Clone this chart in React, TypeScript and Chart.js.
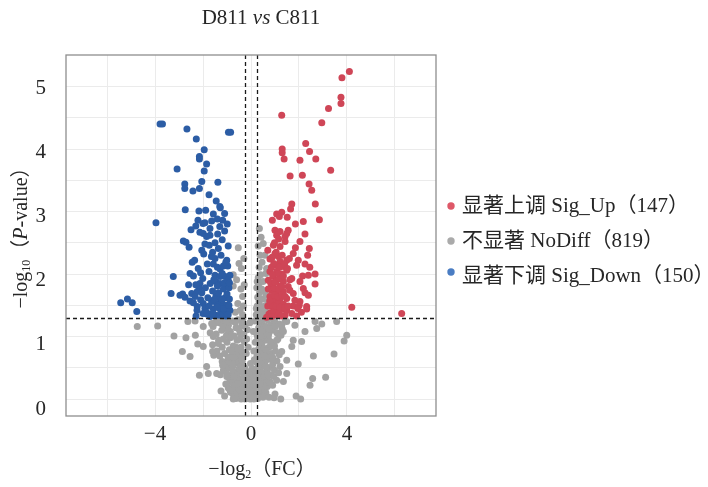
import React, { useEffect, useRef } from "react";
import { Chart, registerables } from "chart.js";

Chart.register(...registerables);

// ---------- data ----------
const TITLE_A = "D811 ";
const TITLE_VS = "vs";
const TITLE_B = " C811";

const LEGEND_LABELS = ["显著上调 Sig_Up（147）", "不显著 NoDiff（819）", "显著下调 Sig_Down（150）"];

const X_GRID = [-6, -4, -2, 0, 2, 4, 6];
const X_LABELS = [-4, 0, 4];
const Y_GRID = [0, 0.5, 1, 1.5, 2, 2.5, 3, 3.5, 4, 4.5, 5];
const Y_LABELS = [0, 1, 2, 3, 4, 5];

const FC_CUTS = [-0.263, 0.263];
const P_CUT = 1.301;

// [log2FC, -log10 P]
const SIG_UP: [number, number][] = [
  [4.10, 5.24], [3.79, 5.14], [3.75, 4.83], [3.75, 4.73], [3.23, 4.65], [1.28, 4.54], [2.95, 4.42],
  [2.28, 4.09], [2.44, 3.96], [1.30, 4.00], [1.30, 3.94], [1.38, 3.84], [2.04, 3.82], [2.70, 3.84],
  [3.32, 3.66], [1.63, 3.57], [2.14, 3.58], [2.42, 3.44], [2.53, 3.34], [2.68, 3.12], [1.70, 3.12],
  [1.65, 3.04], [2.85, 2.87], [2.18, 2.84], [0.89, 2.86], [1.07, 2.96], [1.28, 2.99], [1.51, 2.91],
  [1.85, 2.80], [1.18, 2.92],
  [1.00, 2.70], [1.21, 2.68], [1.55, 2.70], [1.07, 2.62], [1.42, 2.60], [1.49, 2.65], [2.25, 2.64],
  [2.04, 2.52], [1.42, 2.52], [0.93, 2.46], [1.21, 2.44], [2.43, 2.41], [2.36, 2.30], [1.76, 2.33],
  [1.00, 2.33], [1.14, 2.28], [0.79, 2.24], [1.21, 2.20], [1.49, 2.22], [1.97, 2.22], [2.25, 2.16],
  [1.04, 2.14], [1.35, 2.12], [1.49, 2.06], [0.79, 2.04], [1.07, 2.04], [1.28, 2.00], [1.70, 1.93],
  [2.15, 1.97], [2.39, 1.98], [2.67, 2.00], [0.93, 1.96], [0.72, 1.90], [1.07, 1.90], [1.35, 1.88],
  [2.04, 1.88], [2.67, 1.84], [0.86, 1.82], [1.21, 1.81], [1.55, 1.80], [2.18, 1.77], [0.86, 1.74],
  [1.07, 1.72], [1.35, 1.72], [1.76, 1.69], [2.25, 1.70], [2.39, 1.66], [0.79, 1.64], [1.00, 1.61],
  [1.21, 1.61], [1.49, 1.61], [1.83, 1.58], [2.04, 1.56], [0.93, 1.56], [1.14, 1.53], [1.35, 1.52],
  [1.76, 1.49], [2.01, 1.50], [2.32, 1.48], [0.86, 1.48], [1.00, 1.45], [1.28, 1.44], [1.49, 1.42],
  [2.32, 1.44], [0.93, 1.34], [1.42, 1.34], [1.90, 1.33], [0.65, 1.31], [4.20, 1.47], [6.28, 1.37],
  [0.75, 1.36], [0.82, 1.38], [0.95, 1.40], [1.10, 1.35], [1.18, 1.38], [1.25, 1.33], [0.70, 1.49],
  [0.90, 1.50], [1.05, 1.48], [1.20, 1.47], [1.40, 1.46], [0.78, 1.57], [0.97, 1.66], [1.12, 1.64],
  [1.30, 1.66], [1.42, 1.64], [0.72, 1.76], [0.95, 1.78], [1.15, 1.76], [1.28, 1.80], [0.82, 1.86],
  [1.00, 1.87], [1.18, 1.93], [0.90, 1.99], [1.15, 2.01], [1.35, 1.97], [0.85, 2.11], [0.95, 2.17],
  [1.18, 2.11], [1.40, 2.16], [0.88, 2.27], [1.05, 2.35], [1.30, 2.30], [1.60, 2.25], [0.98, 2.50],
  [1.15, 2.56], [0.70, 2.38], [1.62, 1.91], [1.55, 1.49], [1.62, 1.74], [1.90, 2.14], [1.85, 2.42],
  [1.95, 1.45], [2.10, 1.39], [1.70, 1.37], [0.85, 1.32], [1.52, 2.09], [2.45, 2.11],
];

const SIG_DOWN: [number, number][] = [
  [-3.79, 4.40], [-3.69, 4.40], [-2.67, 4.32], [-0.94, 4.27], [-0.85, 4.27], [-2.28, 4.16], [-1.95, 3.99],
  [-2.15, 3.88], [-2.15, 3.84], [-1.85, 3.76], [-1.95, 3.65], [-3.08, 3.68], [-1.38, 3.47], [-2.76, 3.44],
  [-2.76, 3.37], [-2.42, 3.33], [-2.15, 3.37], [-2.74, 3.03], [-2.17, 3.01], [-1.89, 3.02], [-1.30, 3.08],
  [-1.28, 3.06], [-1.57, 2.96], [-2.21, 2.86], [-1.92, 2.82], [-1.64, 2.85], [-1.40, 2.88], [-1.18, 2.86],
  [-0.99, 2.80], [-2.30, 2.77], [-1.71, 2.73], [-2.13, 2.67], [-1.99, 2.65], [-1.71, 2.62], [-1.39, 2.64],
  [-3.96, 2.82], [-2.82, 2.53], [-2.71, 2.51], [-2.58, 2.43], [-1.92, 2.48], [-1.74, 2.46], [-1.36, 2.41],
  [-1.97, 2.32], [-2.35, 2.22], [-1.50, 2.25], [-1.01, 2.22], [-1.82, 2.16], [-1.57, 2.16], [-1.15, 2.13],
  [-0.97, 2.13], [-1.29, 2.08], [-2.54, 2.01], [-2.40, 1.97], [-2.10, 2.02], [-3.24, 1.96], [-2.01, 1.93],
  [-1.50, 1.98], [-1.29, 1.96], [-1.08, 1.96], [-0.88, 1.98], [-2.13, 1.85], [-1.46, 1.88], [-1.29, 1.85],
  [-1.01, 1.82], [-2.15, 1.77], [-2.24, 1.72], [-2.05, 1.70], [-3.33, 1.69], [-2.96, 1.66], [-2.85, 1.68],
  [-2.47, 1.69], [-2.33, 1.64], [-1.46, 1.65], [-1.29, 1.61], [-1.08, 1.62], [-0.90, 1.60], [-2.54, 1.57],
  [-2.40, 1.54], [-1.99, 1.53], [-1.64, 1.56], [-1.43, 1.53], [-1.22, 1.54], [-1.01, 1.50], [-2.24, 1.48],
  [-1.92, 1.45], [-1.57, 1.44], [-1.29, 1.44], [-1.08, 1.40], [-0.88, 1.42], [-2.29, 1.33], [-1.85, 1.36],
  [-1.71, 1.32], [-1.46, 1.34], [-1.18, 1.36], [-5.43, 1.54], [-5.15, 1.60], [-4.95, 1.54], [-4.76, 1.40],
  [-1.05, 1.33], [-0.95, 1.35], [-1.30, 1.34], [-1.60, 1.37], [-2.00, 1.37], [-1.15, 1.45], [-1.40, 1.47],
  [-1.75, 1.49], [-0.92, 1.50], [-1.20, 1.59], [-1.55, 1.59], [-1.80, 1.62], [-2.10, 1.59], [-1.00, 1.68],
  [-1.35, 1.70], [-1.60, 1.73], [-1.90, 1.78], [-1.15, 1.76], [-0.92, 1.78], [-1.40, 1.81], [-1.70, 1.85],
  [-1.10, 1.86], [-2.30, 1.83], [-1.55, 1.91], [-0.95, 1.90], [-1.20, 2.01], [-1.75, 2.04], [-2.20, 2.09],
  [-1.40, 2.11], [-1.05, 2.19], [-1.65, 2.28], [-1.25, 2.30], [-2.05, 2.38], [-1.50, 2.50], [-1.20, 2.55],
  [-1.85, 2.60], [-1.10, 2.69], [-2.45, 2.19], [-2.60, 1.83], [-2.75, 1.63], [-1.30, 2.76], [-1.60, 2.35],
  [-0.95, 2.45], [-2.00, 2.81], [-1.45, 3.17], [-1.75, 3.27], [-2.05, 3.48], [-1.10, 2.97], [-2.50, 2.71],
  [-0.90, 1.86], [-1.85, 1.39], [-2.25, 1.42],
];

const NO_DIFF: [number, number][] = [
  // bottom band
  [-0.62, 0.01], [-0.50, 0.03], [-0.41, 0.00], [-0.33, 0.02], [-0.25, 0.00], [-0.18, 0.04], [-0.10, 0.01],
  [-0.03, 0.00], [0.05, 0.02], [0.12, 0.00], [0.20, 0.03], [0.28, 0.01], [0.36, 0.04], [-0.55, 0.06],
  [-0.45, 0.07], [-0.30, 0.06], [-0.15, 0.08], [0.00, 0.06], [0.15, 0.07], [0.30, 0.08], [0.42, 0.05],
  [-0.75, 0.08], [-0.66, 0.11], [-0.58, 0.07], [-0.48, 0.10], [-0.38, 0.08], [-0.28, 0.11], [-0.20, 0.09],
  [-0.12, 0.12], [-0.05, 0.08], [0.03, 0.10], [0.10, 0.13], [0.18, 0.08], [0.26, 0.11], [0.34, 0.09],
  [0.45, 0.12], [0.55, 0.07], [-0.85, 0.11], [0.62, 0.10],
  [-0.80, 0.16], [-0.70, 0.19], [-0.60, 0.14], [-0.52, 0.18], [-0.44, 0.21], [-0.35, 0.15], [-0.26, 0.19],
  [-0.17, 0.17], [-0.08, 0.21], [0.02, 0.16], [0.09, 0.19], [0.17, 0.14], [0.25, 0.18], [0.33, 0.21],
  [0.41, 0.16], [0.50, 0.19], [0.58, 0.15], [0.68, 0.20], [-0.95, 0.18],
  [-0.88, 0.28], [-0.76, 0.26], [-0.65, 0.31], [-0.55, 0.27], [-0.46, 0.32], [-0.37, 0.26], [-0.28, 0.30],
  [-0.18, 0.28], [-0.06, 0.33], [0.06, 0.27], [0.16, 0.31], [0.24, 0.26], [0.32, 0.30], [0.40, 0.28],
  [0.49, 0.32], [0.58, 0.26], [0.70, 0.30], [0.80, 0.27],
  [-0.40, 0.11], [-0.22, 0.14], [-0.35, 0.04], [0.08, 0.05], [0.22, 0.16], [-0.58, 0.24], [-0.12, 0.24],
  [0.38, 0.24], [-0.68, 0.03], [0.50, 0.03], [-0.02, 0.13], [0.14, 0.23], [-0.48, 0.15], [0.30, 0.13],
  [-0.90, 0.34], [0.65, 0.34], [-1.05, 0.24], [0.90, 0.22], [-1.10, 0.05], [0.75, 0.03], [-1.25, 0.13],
  [1.00, 0.08],
  // lower middle
  [-1.28, 0.39], [-1.15, 0.46], [-1.02, 0.42], [-0.92, 0.50], [-0.82, 0.37], [-0.74, 0.44], [-0.66, 0.57],
  [-0.58, 0.40], [-0.50, 0.48], [-0.42, 0.55], [-0.34, 0.42], [-0.26, 0.50], [-0.20, 0.38], [-1.20, 0.60],
  [-1.08, 0.55], [-0.96, 0.63], [-0.86, 0.59], [-0.76, 0.52], [-0.68, 0.64], [-0.60, 0.60], [-0.52, 0.63],
  [-0.44, 0.46], [-0.36, 0.61], [-0.30, 0.36], [-0.96, 0.36], [-0.70, 0.36], [-0.15, 0.44], [-0.10, 0.36],
  [-0.05, 0.42], [0.05, 0.49], [0.10, 0.39], [-0.02, 0.57], [0.14, 0.63],
  [0.20, 0.40], [0.28, 0.46], [0.35, 0.38], [0.42, 0.52], [0.50, 0.42], [0.58, 0.59], [0.66, 0.44],
  [0.74, 0.50], [0.82, 0.39], [0.90, 0.55], [0.98, 0.46], [1.08, 0.61], [0.24, 0.59], [0.32, 0.63],
  [0.40, 0.44], [0.48, 0.57], [0.56, 0.36], [0.64, 0.63], [0.72, 0.38], [0.86, 0.63], [0.95, 0.36],
  [1.15, 0.42], [0.30, 0.52], [0.62, 0.52],
  // upper middle
  [-1.55, 0.70], [-1.42, 0.77], [-1.30, 0.69], [-1.20, 0.83], [-1.10, 0.73], [-1.00, 0.91], [-0.90, 0.79],
  [-0.82, 0.69], [-0.74, 0.85], [-0.66, 0.75], [-0.58, 0.94], [-0.50, 0.71], [-0.42, 0.83], [-0.34, 0.75],
  [-0.28, 0.92], [-1.35, 0.94], [-1.15, 0.96], [-0.95, 0.67], [-0.86, 0.98], [-0.70, 0.67], [-0.62, 0.83],
  [-0.46, 0.96], [-0.38, 0.67], [-1.60, 0.87], [-0.78, 0.77], [-0.55, 0.80],
  [-0.20, 0.73], [-0.12, 0.83], [0.12, 0.77], [0.18, 0.91], [-0.18, 0.96],
  [0.25, 0.69], [0.32, 0.80], [0.38, 0.71], [0.45, 0.87], [0.52, 0.75], [0.60, 0.94], [0.68, 0.70],
  [0.75, 0.83], [0.84, 0.73], [0.92, 0.90], [1.02, 0.77], [1.12, 0.96], [0.28, 0.96], [0.36, 0.90],
  [0.48, 0.67], [0.56, 0.81], [0.64, 0.77], [0.72, 0.98], [0.80, 0.92], [0.90, 0.67], [1.18, 0.71],
  [0.42, 0.98], [0.58, 0.69], [0.98, 0.85],
  // just under the P cut
  [-1.70, 1.06], [-1.58, 1.16], [-1.45, 1.04], [-1.32, 1.22], [-1.22, 1.10], [-1.12, 1.27], [-1.02, 1.02],
  [-0.94, 1.18], [-0.86, 1.08], [-0.78, 1.25], [-0.70, 1.01], [-0.62, 1.14], [-0.54, 1.27], [-0.46, 1.06],
  [-0.38, 1.20], [-0.30, 1.04], [-0.26, 1.16], [-1.40, 1.27], [-0.98, 1.12], [-0.66, 1.23], [-0.50, 1.12],
  [-0.34, 1.28], [-1.18, 1.18], [-0.82, 1.00], [-1.50, 1.22], [-1.05, 1.25],
  [-0.15, 1.11], [-0.05, 1.22], [0.10, 1.08], [0.15, 1.25],
  [0.26, 1.02], [0.32, 1.14], [0.38, 1.06], [0.44, 1.22], [0.50, 1.02], [0.56, 1.16], [0.62, 1.08],
  [0.68, 1.27], [0.74, 1.04], [0.82, 1.18], [0.90, 1.10], [0.98, 1.25], [1.08, 1.06], [1.18, 1.20],
  [1.30, 1.12], [1.42, 1.25], [0.28, 1.25], [0.36, 1.27], [0.46, 1.10], [0.54, 1.29], [0.64, 1.16],
  [0.78, 1.12], [0.86, 1.29], [1.02, 1.16], [1.25, 1.02], [0.40, 1.00],
  // scattered
  [-4.74, 1.16], [-3.89, 1.17], [-3.21, 1.01], [-2.71, 0.98], [-2.32, 1.02], [-2.63, 1.24], [-2.33, 1.25],
  [-2.86, 0.76], [-2.54, 0.68], [-2.22, 0.88], [-1.99, 0.84], [-1.85, 0.52], [-2.15, 0.38], [-1.78, 0.41],
  [-1.43, 0.41], [-1.18, 0.54], [-1.99, 1.16], [-1.64, 1.21], [-1.57, 1.00], [-1.36, 0.89], [-1.60, 0.76],
  [-1.01, 0.36], [-0.88, 0.14], [-0.74, 0.00],
  [1.83, 1.18], [2.67, 1.24], [2.95, 1.20], [2.74, 1.13], [3.57, 1.24], [2.25, 1.08], [1.76, 0.94],
  [2.11, 0.92], [3.99, 1.02], [3.88, 0.93], [2.60, 0.69], [3.46, 0.72], [1.97, 0.56], [1.49, 0.41],
  [3.11, 0.35], [2.57, 0.33], [2.46, 0.22], [1.88, 0.05], [2.07, 0.00], [0.96, 0.02], [1.24, 0.00],
  [1.35, 0.28], [1.07, 0.30], [1.21, 0.52], [1.49, 0.62], [1.28, 0.76], [1.70, 0.84], [1.07, 0.94],
  [1.35, 1.08], [1.28, 1.18], [1.49, 1.24],
  // above the P cut, small fold change
  [0.22, 1.35], [0.30, 1.39], [0.38, 1.33], [0.45, 1.43], [0.26, 1.49], [0.34, 1.56], [0.42, 1.47],
  [0.52, 1.37], [0.28, 1.63], [0.36, 1.70], [0.48, 1.60], [0.56, 1.49], [0.24, 1.78], [0.32, 1.84],
  [0.44, 1.76], [0.55, 1.73], [0.30, 1.94], [0.40, 1.99], [0.50, 1.88], [0.62, 2.01], [0.34, 2.11],
  [0.46, 2.19], [0.65, 2.09], [0.38, 2.30], [0.51, 2.49], [0.30, 2.45], [0.35, 2.73], [0.42, 2.59],
  [0.60, 1.42], [0.64, 1.66], [0.22, 1.45], [0.26, 1.88], [0.58, 2.30], [0.70, 1.56],
  [-0.35, 1.35], [-0.45, 1.42], [-0.32, 1.49], [-0.55, 1.53], [-0.35, 1.64], [-0.42, 1.76], [-0.74, 1.81],
  [-0.60, 1.91], [-0.74, 1.99], [-0.40, 2.09], [-0.53, 2.42], [-0.30, 2.25], [-0.65, 1.39], [-0.28, 1.83],
  [-0.50, 2.17],
];

// ---------- style ----------
const RED = "#CF4657";
const GRAY = "#A2A2A2";
const BLUE = "#2C5DA5";
const LEGEND_COLORS = ["#DE5868", "#AAAAAA", "#4A7DC3"];
const SERIF = '"Liberation Serif", "Times New Roman", "Noto Sans CJK SC", serif';
const TEXT = "#262626";

type Run = { text: string; font: string; dy?: number };

function drawRuns(ctx: CanvasRenderingContext2D, runs: Run[], cx: number, cy: number) {
  let total = 0;
  const widths = runs.map((r) => {
    ctx.font = r.font;
    const w = ctx.measureText(r.text).width;
    total += w;
    return w;
  });
  let x = cx - total / 2;
  ctx.textAlign = "left";
  ctx.textBaseline = "middle";
  runs.forEach((r, i) => {
    ctx.font = r.font;
    ctx.fillText(r.text, x, cy + (r.dy || 0));
    x += widths[i];
  });
}

const fmt = (v: number) => (v < 0 ? "\u2212" + Math.abs(v) : String(v));

const decoPlugin = {
  id: "deco",
  afterDatasetsDraw(chart: any) {
    const { ctx, chartArea: a, scales } = chart;
    const xs = scales.x;
    const ys = scales.y;
    ctx.save();
    ctx.strokeStyle = "#1a1a1a";
    ctx.lineWidth = 1.3;
    ctx.setLineDash([4, 3]);
    FC_CUTS.forEach((v) => {
      const px = Math.round(xs.getPixelForValue(v)) + 0.5;
      ctx.beginPath();
      ctx.moveTo(px, a.top);
      ctx.lineTo(px, a.bottom);
      ctx.stroke();
    });
    const py = Math.round(ys.getPixelForValue(P_CUT)) + 0.5;
    ctx.beginPath();
    ctx.moveTo(a.left, py);
    ctx.lineTo(a.right, py);
    ctx.stroke();
    ctx.setLineDash([]);
    ctx.strokeStyle = "#8e8e8e";
    ctx.lineWidth = 1.3;
    ctx.strokeRect(a.left, a.top, a.right - a.left, a.bottom - a.top);
    ctx.restore();
  },
  afterDraw(chart: any) {
    const { ctx, chartArea: a, scales } = chart;
    const xs = scales.x;
    const ys = scales.y;
    ctx.save();
    ctx.fillStyle = TEXT;
    // y tick labels
    ctx.font = `21px ${SERIF}`;
    ctx.textAlign = "right";
    ctx.textBaseline = "middle";
    Y_LABELS.forEach((v) => {
      ctx.fillText(fmt(v), a.left - 20, ys.getPixelForValue(v) + 10 - 1.6 * v);
    });
    // x tick labels
    ctx.textAlign = "center";
    X_LABELS.forEach((v) => {
      ctx.fillText(fmt(v), xs.getPixelForValue(v), a.bottom + 18);
    });
    // title
    drawRuns(ctx, [
      { text: TITLE_A, font: `21px ${SERIF}` },
      { text: TITLE_VS, font: `italic 21px ${SERIF}` },
      { text: TITLE_B, font: `21px ${SERIF}` },
    ], 261, 18);
    // x title
    drawRuns(ctx, [
      { text: "\u2212log", font: `20px ${SERIF}` },
      { text: "2", font: `12px ${SERIF}`, dy: 5 },
      { text: "（FC）", font: `20px ${SERIF}` },
    ], 262, 470);
    // y title
    ctx.save();
    ctx.translate(22, 233);
    ctx.rotate(-Math.PI / 2);
    drawRuns(ctx, [
      { text: "\u2212log", font: `20px ${SERIF}` },
      { text: "10", font: `12px ${SERIF}`, dy: 5 },
      { text: "（", font: `20px ${SERIF}` },
      { text: "P", font: `italic 20px ${SERIF}` },
      { text: "-value）", font: `20px ${SERIF}` },
    ], 0, 0);
    ctx.restore();
    // legend
    const rows = [206, 241, 276];
    LEGEND_LABELS.forEach((label, i) => {
      ctx.fillStyle = LEGEND_COLORS[i];
      ctx.beginPath();
      ctx.arc(451, rows[i] + (i === 2 ? -4 : 0), 3.7, 0, Math.PI * 2);
      ctx.fill();
      ctx.fillStyle = TEXT;
      ctx.font = `21px ${SERIF}`;
      ctx.textAlign = "left";
      ctx.textBaseline = "middle";
      ctx.fillText(label, 462, rows[i]);
    });
    ctx.restore();
  },
};

const toPts = (arr: [number, number][]) => arr.map(([x, y]) => ({ x, y }));

export default function App() {
  const ref = useRef<HTMLCanvasElement | null>(null);
  useEffect(() => {
    if (!ref.current) return;
    const chart = new Chart(ref.current, {
      type: "scatter",
      data: {
        datasets: [
          { label: "Sig_Up", data: toPts(SIG_UP), backgroundColor: RED, pointRadius: 3.5, borderWidth: 0 },
          { label: "Sig_Down", data: toPts(SIG_DOWN), backgroundColor: BLUE, pointRadius: 3.5, borderWidth: 0 },
          { label: "NoDiff", data: toPts(NO_DIFF), backgroundColor: GRAY, pointRadius: 3.5, borderWidth: 0 },
        ],
      },
      options: {
        animation: false,
        responsive: false,
        devicePixelRatio: 1,
        events: [],
        layout: { autoPadding: false, padding: { left: 0, top: 55, right: 272, bottom: 0 } },
        plugins: { legend: { display: false }, title: { display: false }, tooltip: { enabled: false } },
        scales: {
          x: {
            type: "linear",
            min: -7.71,
            max: 7.71,
            afterBuildTicks: (s: any) => { s.ticks = X_GRID.map((v) => ({ value: v })); },
            afterFit: (s: any) => { s.height = 71; },
            ticks: { display: false },
            grid: { color: "#EBEBEB", lineWidth: 1, drawTicks: false },
            border: { display: false },
          },
          y: {
            type: "linear",
            min: -0.272,
            max: 5.504,
            afterBuildTicks: (s: any) => { s.ticks = Y_GRID.map((v) => ({ value: v })); },
            afterFit: (s: any) => { s.width = 66; },
            ticks: { display: false },
            grid: { color: "#EBEBEB", lineWidth: 1, drawTicks: false },
            border: { display: false },
          },
        },
      },
      plugins: [decoPlugin],
    } as any);
    return () => chart.destroy();
  }, []);
  return (
    <div style={{ position: "fixed", left: 0, top: 0, width: 708, height: 487, background: "#fff" }}>
      <canvas ref={ref} width={708} height={487} style={{ width: 708, height: 487, display: "block" }} />
    </div>
  );
}
